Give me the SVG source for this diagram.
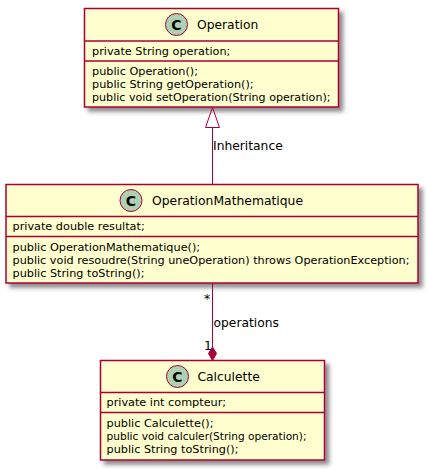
<svg xmlns="http://www.w3.org/2000/svg" width="428" height="469" viewBox="0 0 428 469">
<defs>
<filter id="sh" x="-10%" y="-10%" width="130%" height="140%">
<feGaussianBlur in="SourceAlpha" stdDeviation="2"/>
<feColorMatrix type="matrix" values="0 0 0 0 0  0 0 0 0 0  0 0 0 0 0  0 0 0 0.45 0"/>
<feOffset dx="4" dy="4" result="b"/>
<feMerge><feMergeNode in="b"/><feMergeNode in="SourceGraphic"/></feMerge>
</filter>
<style>
.box{fill:#FEFECE;stroke:#A80036;stroke-width:1.5}
.sep{stroke:#A80036;stroke-width:1.5}
.circ{fill:#ADD1B2;stroke:#A80036;stroke-width:1}
.c{font-family:"DejaVu Sans",sans-serif;font-size:14px;font-weight:bold;fill:#000;text-anchor:middle}
.name{font-family:"DejaVu Sans",sans-serif;font-size:12.3px;fill:#000}
.m{font-family:"DejaVu Sans",sans-serif;font-size:11.25px;fill:#000}
.lbl{font-family:"DejaVu Sans",sans-serif;font-size:12.3px;fill:#000}
.edge{stroke:#A80036;stroke-width:1;fill:none}
</style>
</defs>
<g id="Operation">
<rect class="box" x="84.5" y="8.5" width="254" height="98.5" filter="url(#sh)"/>
<circle class="circ" cx="176.5" cy="24.5" r="11"/>
<text class="c" x="176.5" y="29.5">C</text>
<text class="name" x="197" y="29">Operation</text>
<line class="sep" x1="84.5" y1="41" x2="338.5" y2="41"/>
<text class="m" x="92" y="54.5">private String operation;</text>
<line class="sep" x1="84.5" y1="61" x2="338.5" y2="61"/>
<text class="m" x="92" y="75">public Operation();</text>
<text class="m" x="92" y="88">public String getOperation();</text>
<text class="m" x="92" y="101" textLength="238.5" lengthAdjust="spacingAndGlyphs">public void setOperation(String operation);</text>
</g>
<g id="OperationMathematique">
<rect class="box" x="6" y="184.5" width="412" height="98.5" filter="url(#sh)"/>
<circle class="circ" cx="131" cy="200.5" r="11"/>
<text class="c" x="131" y="205.5">C</text>
<text class="name" x="152" y="204.5" textLength="151" lengthAdjust="spacingAndGlyphs">OperationMathematique</text>
<line class="sep" x1="6" y1="216.5" x2="418" y2="216.5"/>
<text class="m" x="12.5" y="230">private double resultat;</text>
<line class="sep" x1="6" y1="236.5" x2="418" y2="236.5"/>
<text class="m" x="12.5" y="250.5">public OperationMathematique();</text>
<text class="m" x="12.5" y="263.5" textLength="397" lengthAdjust="spacingAndGlyphs">public void resoudre(String uneOperation) throws OperationException;</text>
<text class="m" x="12.5" y="276.5">public String toString();</text>
</g>
<g id="Calculette">
<rect class="box" x="100.5" y="360.5" width="224" height="99.5" filter="url(#sh)"/>
<circle class="circ" cx="177.5" cy="376.5" r="11"/>
<text class="c" x="177.5" y="381.5">C</text>
<text class="name" x="197.5" y="380.5">Calculette</text>
<line class="sep" x1="100.5" y1="392.5" x2="324.5" y2="392.5"/>
<text class="m" x="106.5" y="406">private int compteur;</text>
<line class="sep" x1="100.5" y1="412.5" x2="324.5" y2="412.5"/>
<text class="m" x="106.5" y="426.5">public Calculette();</text>
<text class="m" x="106.5" y="439.5" textLength="200" lengthAdjust="spacingAndGlyphs">public void calculer(String operation);</text>
<text class="m" x="106.5" y="452.5">public String toString();</text>
</g>
<g id="connectors">
<line class="edge" x1="212.5" y1="127.5" x2="212.5" y2="184.5"/>
<polygon points="212.5,107.5 205.5,127.5 219.5,127.5" fill="none" stroke="#A80036" stroke-width="1"/>
<text class="lbl" x="213" y="150">Inheritance</text>
<line class="edge" x1="212.5" y1="283" x2="212.5" y2="347"/>
<polygon points="212.5,360.5 208.5,353.5 212.5,347 216.5,353.5" fill="#A80036" stroke="#A80036" stroke-width="1"/>
<text class="lbl" x="204" y="303">*</text>
<text class="lbl" x="213.5" y="327">operations</text>
<text class="lbl" x="204" y="350">1</text>
</g>
</svg>
